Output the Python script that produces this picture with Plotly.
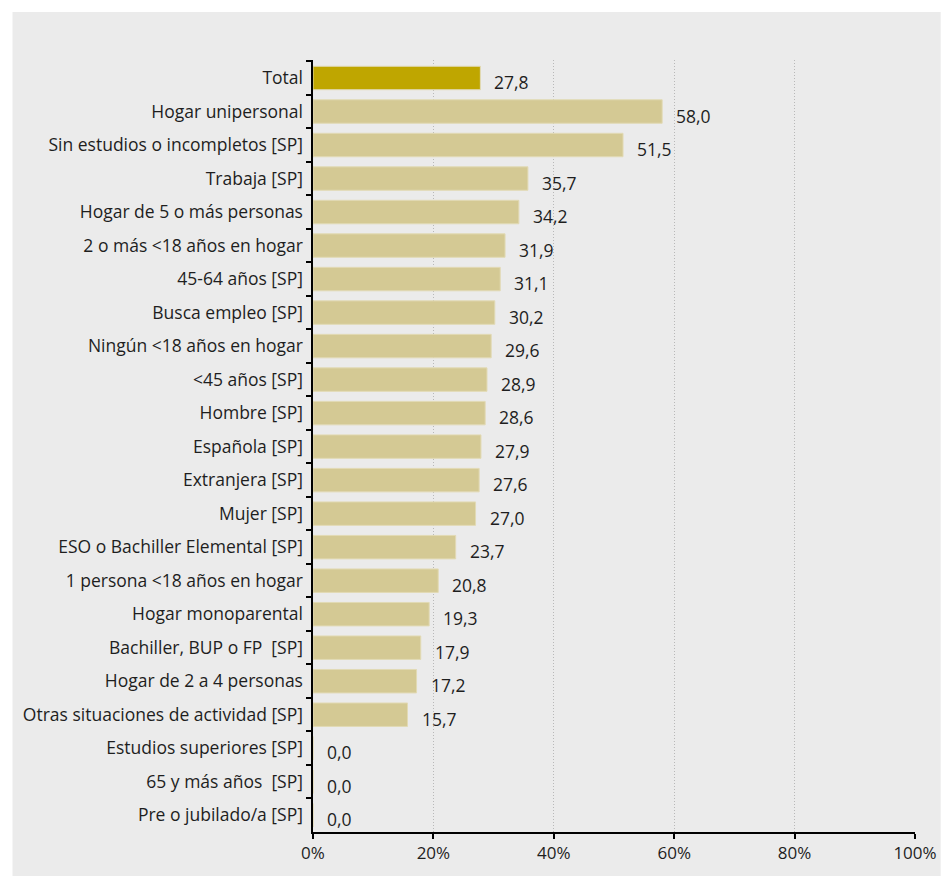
import plotly.graph_objects as go

categories = [
    "Total",
    "Hogar unipersonal",
    "Sin estudios o incompletos [SP]",
    "Trabaja [SP]",
    "Hogar de 5 o más personas",
    "2 o más <18 años en hogar",
    "45-64 años [SP]",
    "Busca empleo [SP]",
    "Ningún <18 años en hogar",
    "<45 años [SP]",
    "Hombre [SP]",
    "Española [SP]",
    "Extranjera [SP]",
    "Mujer [SP]",
    "ESO o Bachiller Elemental [SP]",
    "1 persona <18 años en hogar",
    "Hogar monoparental",
    "Bachiller, BUP o FP  [SP]",
    "Hogar de 2 a 4 personas",
    "Otras situaciones de actividad [SP]",
    "Estudios superiores [SP]",
    "65 y más años  [SP]",
    "Pre o jubilado/a [SP]",
]
values = [27.8, 58.0, 51.5, 35.7, 34.2, 31.9, 31.1, 30.2, 29.6, 28.9, 28.6, 27.9,
          27.6, 27.0, 23.7, 20.8, 19.3, 17.9, 17.2, 15.7, 0.0, 0.0, 0.0]
x_ticks = [0, 20, 40, 60, 80, 100]
x_tick_labels = ["0%", "20%", "40%", "60%", "80%", "100%"]

colors = ["#bfa600"] + ["#d4c994"] * (len(categories) - 1)

W, H = 949, 876
L, R, T, B = 313, 27, 60, 44
pw, ph = W - L - R, H - T - B
FONT = "Open Sans"

fig = go.Figure(go.Bar(
    x=values, y=categories, orientation="h",
    marker=dict(color=colors, line=dict(color="#e2dab5", width=1)),
    hoverinfo="x+y",
))

# value labels to the right, nudged slightly below bar centre
for c, v in zip(categories, values):
    fig.add_annotation(x=v, y=c, text=f"{v:.1f}".replace(".", ","),
                       showarrow=False, xanchor="left", yanchor="middle",
                       xshift=12, yshift=-4,
                       font=dict(family=FONT, size=17.5, color="#1e1e1e"))

# grey panel with white border at top/left
fig.add_shape(type="rect", xref="paper", yref="paper", layer="below",
              x0=(9 - L) / pw, x1=(948 - L) / pw,
              y0=-(B + 5) / ph, y1=(H - B - 12) / ph,
              fillcolor="#ebebeb", line=dict(width=0))

fig.update_layout(
    width=W, height=H,
    margin=dict(l=L, r=R, t=T, b=B, pad=0),
    paper_bgcolor="white", plot_bgcolor="#ebebeb",
    bargap=0.3, showlegend=False,
    font=dict(family=FONT, size=17.5, color="#1e1e1e"),
    xaxis=dict(range=[0, 100], tickvals=x_ticks, ticktext=x_tick_labels,
               showgrid=True, gridcolor="#b8b8b8", griddash="1px,2px", gridwidth=1,
               showline=True, linecolor="black", linewidth=2,
               ticks="outside", ticklen=5, tickcolor="black", tickwidth=2,
               tickfont=dict(size=17),
               zeroline=False, fixedrange=True),
    yaxis=dict(autorange="reversed", showline=True, linecolor="black", linewidth=2,
               ticks="outside", tickson="boundaries", ticklen=5,
               tickcolor="black", tickwidth=2, showgrid=False, fixedrange=True,
               ticksuffix=" "),
)

# drop the default body margin and scrollbars so the figure fills the window exactly
js = ("document.documentElement.style.overflow='hidden';"
      "document.body.style.overflow='hidden';"
      "document.body.style.margin='0';")
fig.write_html("out.html", post_script=js, config={"displayModeBar": False})
